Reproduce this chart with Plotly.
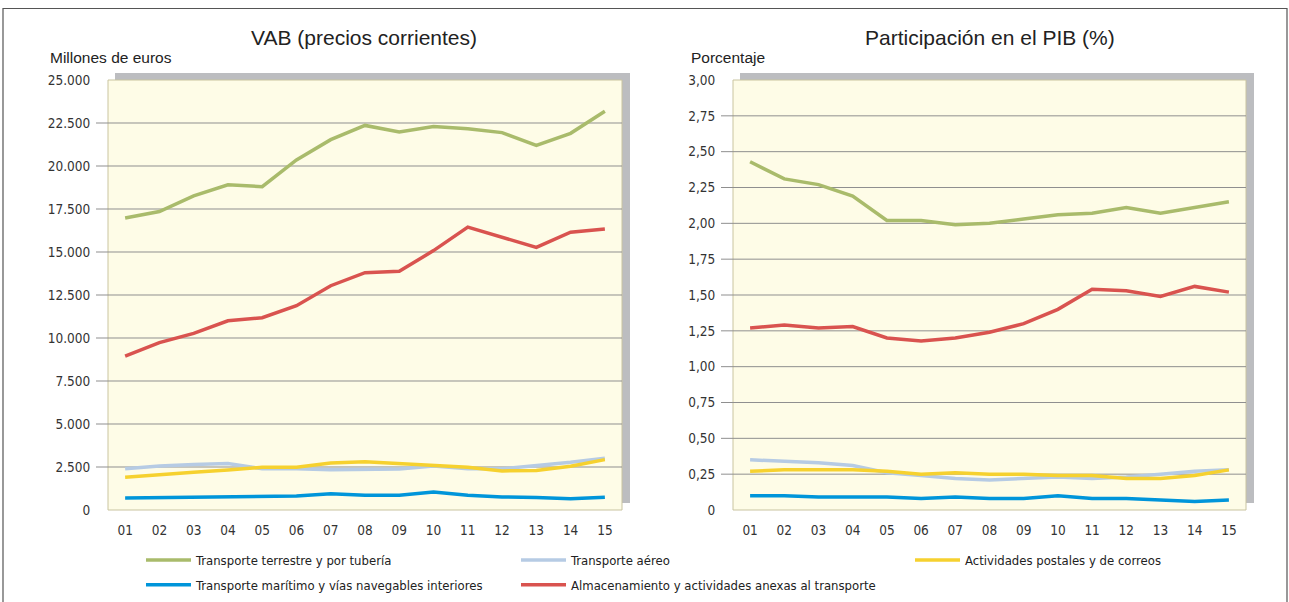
import plotly.graph_objects as go

# ---------------- data ----------------
years = ["01", "02", "03", "04", "05", "06", "07", "08", "09", "10", "11", "12", "13", "14", "15"]

series_names = [
    "Transporte terrestre y por tubería",
    "Transporte aéreo",
    "Actividades postales y de correos",
    "Transporte marítimo y vías navegables interiores",
    "Almacenamiento y actividades anexas al transporte",
]

# VAB (precios corrientes), millones de euros
vab_terrestre = [16980, 17350, 18260, 18910, 18800, 20350, 21530, 22360, 21980, 22290, 22170, 21940, 21200, 21900, 23180]
vab_aereo = [2400, 2560, 2640, 2700, 2400, 2400, 2340, 2380, 2380, 2560, 2400, 2400, 2580, 2770, 3010]
vab_postales = [1910, 2070, 2190, 2320, 2480, 2480, 2730, 2810, 2700, 2600, 2480, 2270, 2300, 2540, 2930]
vab_maritimo = [700, 720, 730, 760, 820, 820, 940, 860, 860, 1040, 860, 760, 720, 650, 740]
vab_almacen = [8950, 9730, 10270, 11000, 11180, 11880, 13040, 13800, 13880, 15080, 16450, 15850, 15270, 16150, 16340]

# Participación en el PIB (%)
pib_terrestre = [2.43, 2.31, 2.27, 2.19, 2.02, 2.02, 1.99, 2.00, 2.03, 2.06, 2.07, 2.11, 2.07, 2.11, 2.15]
pib_aereo = [0.35, 0.34, 0.33, 0.31, 0.26, 0.24, 0.22, 0.21, 0.22, 0.23, 0.22, 0.23, 0.25, 0.27, 0.28]
pib_postales = [0.27, 0.28, 0.28, 0.28, 0.27, 0.25, 0.26, 0.25, 0.25, 0.24, 0.24, 0.22, 0.22, 0.24, 0.28]
pib_maritimo = [0.10, 0.10, 0.09, 0.09, 0.09, 0.08, 0.09, 0.08, 0.08, 0.10, 0.08, 0.08, 0.07, 0.06, 0.07]
pib_almacen = [1.27, 1.29, 1.27, 1.28, 1.20, 1.18, 1.20, 1.24, 1.30, 1.40, 1.54, 1.53, 1.49, 1.56, 1.52]

vab_ticks = [0, 2500, 5000, 7500, 10000, 12500, 15000, 17500, 20000, 22500, 25000]
vab_ticktext = ["0", "2.500", "5.000", "7.500", "10.000", "12.500", "15.000", "17.500", "20.000", "22.500", "25.000"]
pib_ticks = [0, 0.25, 0.5, 0.75, 1.0, 1.25, 1.5, 1.75, 2.0, 2.25, 2.5, 2.75, 3.0]
pib_ticktext = ["0", "0,25", "0,50", "0,75", "1,00", "1,25", "1,50", "1,75", "2,00", "2,25", "2,50", "2,75", "3,00"]

titles = ["VAB (precios corrientes)", "Participación en el PIB (%)"]
units = ["Millones de euros", "Porcentaje"]

# ---------------- style ----------------
colors = ["#a9bb6b", "#b6cbe4", "#f6d12f", "#0095da", "#d9534f"]
legend_ids = ["legend", "legend2", "legend3", "legend", "legend2"]
W, H = 1289, 602
NARROW = "DejaVu Sans Condensed, Liberation Sans Narrow, Arial Narrow, sans-serif"
REG = "Liberation Sans, Arial, sans-serif"

left_px = (108, 622)
right_px = (733, 1246)
top_px, bot_px = 80, 510


def px_x(p):
    return p / W


def px_y(p):
    return 1 - p / H


fig = go.Figure()

vab = [vab_terrestre, vab_aereo, vab_postales, vab_maritimo, vab_almacen]
pib = [pib_terrestre, pib_aereo, pib_postales, pib_maritimo, pib_almacen]

for i, name in enumerate(series_names):
    fig.add_trace(go.Scatter(
        x=years, y=vab[i], name=name, mode="lines",
        line=dict(color=colors[i], width=3.5),
        legendgroup="g%d" % i, legend=legend_ids[i], showlegend=True,
        xaxis="x", yaxis="y",
    ))
for i, name in enumerate(series_names):
    fig.add_trace(go.Scatter(
        x=years, y=pib[i], name=name, mode="lines",
        line=dict(color=colors[i], width=3.5),
        legendgroup="g%d" % i, showlegend=False,
        xaxis="x2", yaxis="y2",
    ))

axis_font = dict(family=NARROW, size=13.5, color="#333333")

common_x = dict(type="category", range=[-0.5, 14.5], showgrid=False, zeroline=False,
                showline=False, ticks="outside", ticklen=8, tickcolor="rgba(0,0,0,0)",
                tickfont=axis_font, fixedrange=True)
common_y = dict(showgrid=False, zeroline=False, showline=False, ticks="outside",
                ticklen=14, tickcolor="rgba(0,0,0,0)", tickfont=axis_font, fixedrange=True)

fig.update_layout(
    width=W, height=H,
    margin=dict(l=0, r=0, t=0, b=0, autoexpand=False),
    paper_bgcolor="white", plot_bgcolor="rgba(0,0,0,0)",
    xaxis=dict(domain=[px_x(left_px[0]), px_x(left_px[1])], anchor="y", **common_x),
    yaxis=dict(domain=[px_y(bot_px), px_y(top_px)], anchor="x", range=[0, 25000],
               tickmode="array", tickvals=vab_ticks, ticktext=vab_ticktext, **common_y),
    xaxis2=dict(domain=[px_x(right_px[0]), px_x(right_px[1])], anchor="y2", **common_x),
    yaxis2=dict(domain=[px_y(bot_px), px_y(top_px)], anchor="x2", range=[0, 3],
                tickmode="array", tickvals=pib_ticks, ticktext=pib_ticktext, **common_y),
    showlegend=True,
)

legend_common = dict(orientation="v", xanchor="left", yanchor="top", bgcolor="rgba(0,0,0,0)",
                     font=dict(family=NARROW, size=13, color="#222222"), itemwidth=45,
                     tracegroupgap=5, traceorder="grouped", itemclick=False, itemdoubleclick=False)
fig.update_layout(
    legend=dict(x=px_x(141), y=px_y(545), **legend_common),
    legend2=dict(x=px_x(516), y=px_y(545), **legend_common),
    legend3=dict(x=px_x(910), y=px_y(545), **legend_common),
)

shapes = []
# outer frame
shapes.append(dict(type="rect", xref="paper", yref="paper", x0=px_x(3), x1=px_x(1287),
                   y0=-0.05, y1=px_y(8.5), line=dict(color="#555555", width=1.2),
                   fillcolor="rgba(0,0,0,0)", layer="below"))

for (xa, ya, xr, ticks) in [("x", "y", left_px, vab_ticks), ("x2", "y2", right_px, pib_ticks)]:
    wpx = xr[1] - xr[0]
    hpx = bot_px - top_px
    # shadow
    shapes.append(dict(type="rect", xref=xa + " domain", yref=ya + " domain",
                       x0=7 / wpx, x1=1 + 8 / wpx, y0=7 / hpx, y1=1 + 7 / hpx,
                       fillcolor="#bcbdc0", line=dict(width=0), layer="below"))
    # plot panel
    shapes.append(dict(type="rect", xref=xa + " domain", yref=ya + " domain",
                       x0=0, x1=1, y0=0, y1=1,
                       fillcolor="#fefce7", line=dict(color="#c9c4a0", width=1), layer="below"))
    # gridlines + tick marks on interior values
    for v in ticks[1:-1]:
        shapes.append(dict(type="line", xref=xa + " domain", yref=ya,
                           x0=-12 / wpx, x1=1, y0=v, y1=v,
                           line=dict(color="#8f8f8f", width=1), layer="below"))

fig.update_layout(shapes=shapes)

annotations = []
for i, t in enumerate(titles):
    cx = (364 if i == 0 else 990)
    annotations.append(dict(text=t, xref="paper", yref="paper", x=px_x(cx), y=px_y(37),
                            xanchor="center", yanchor="middle", showarrow=False,
                            font=dict(family=REG, size=21, color="#222222")))
annotations.append(dict(text=units[0], xref="paper", yref="paper", x=px_x(48), y=px_y(57),
                        xanchor="left", yanchor="middle", showarrow=False,
                        font=dict(family=REG, size=15.5, color="#222222")))
annotations.append(dict(text=units[1], xref="paper", yref="paper", x=px_x(689), y=px_y(57),
                        xanchor="left", yanchor="middle", showarrow=False,
                        font=dict(family=REG, size=15.5, color="#222222")))
fig.update_layout(annotations=annotations)

fig.write_html(
    "out.html",
    config={"displayModeBar": False},
    post_script="document.body.style.margin='0';document.body.style.overflow='hidden';",
)
